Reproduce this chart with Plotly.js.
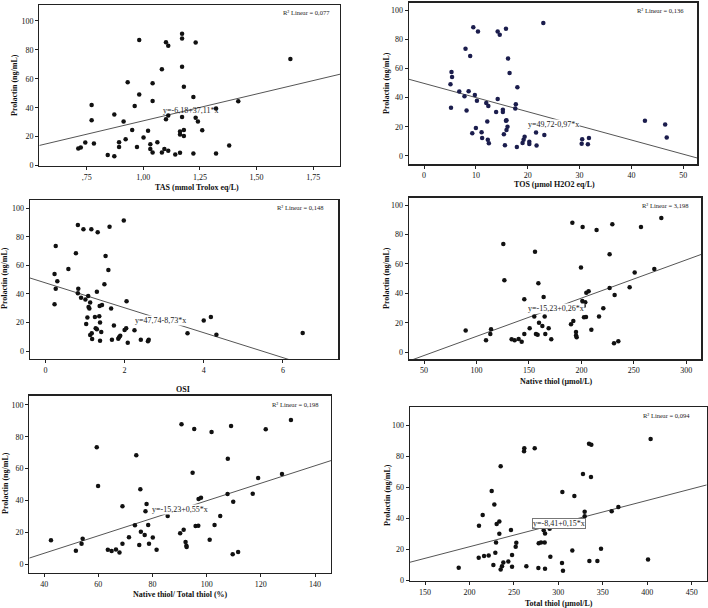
<!DOCTYPE html>
<html>
<head>
<meta charset="utf-8">
<script src="https://cdn.plot.ly/plotly-3.0.1.min.js"></script>
<style>
  html, body { margin: 0; padding: 0; background: #fff; }
  #chart { width: 708px; height: 608px; }
</style>
</head>
<body>
<div id="chart"></div>
<script>
// Prolactin (ng/mL) against six oxidative-stress markers

// TAS (mmol Trolox eq/L)
const tasX = [0.713,0.724,0.744,0.772,0.772,0.782,0.843,0.872,0.872,0.893,0.893,0.913,0.922,0.931,0.951,0.962,0.972,0.982,0.982,1.001,1.021,1.031,1.031,1.041,1.041,1.041,1.062,1.082,1.082,1.093,1.100,1.100,1.110,1.110,1.110,1.141,1.162,1.162,1.162,1.171,1.171,1.171,1.171,1.179,1.179,1.179,1.221,1.221,1.231,1.231,1.241,1.260,1.321,1.321,1.379,1.419,1.649];
const tasY = [11.8,12.5,15.9,41.9,31.4,15.3,7.3,35.3,6.4,16.2,12.8,30.5,18.2,57.6,24.6,41.2,12.8,86.8,49.2,19.4,24.1,14.8,11.4,56.9,44.6,9.1,16.2,66.5,9.1,11.4,85.2,32.1,82.9,34.6,10.3,7.7,23.5,21.5,8.9,91.1,87.9,68.3,33.5,54.4,24.6,20.5,47.4,8.4,85.0,33.0,30.5,24.4,39.4,8.4,13.9,44.4,73.6];

// TOS (µmol H2O2 eq/L)
const tosX = [5.1,5.2,5.3,5.4,6.8,7.8,8.0,8.2,8.6,8.9,9.3,9.5,9.8,10.0,10.2,10.4,11.1,11.2,12.0,12.2,12.3,12.4,12.5,13.9,14.2,14.2,14.6,15.2,15.2,15.4,15.6,15.8,15.8,15.9,15.9,16.1,16.2,16.5,17.6,17.7,17.9,18.0,19.0,19.2,19.4,20.3,20.3,21.6,21.7,23.0,23.2,30.4,30.5,31.6,31.8,42.6,46.5,46.8];
const tosY = [49.1,33.1,57.5,54.1,44.1,40.9,73.5,31.1,44.3,68.5,15.5,88.1,41.8,19.2,37.9,85.2,16.2,12.3,36.3,23.7,11.2,34.2,8.7,30.1,39.0,85.2,83.1,31.7,30.1,14.8,7.3,87.2,24.2,24.4,17.8,20.1,66.7,56.8,32.6,35.4,6.2,47.0,8.9,11.2,13.2,9.8,8.2,16.0,7.1,91.1,14.4,8.4,11.4,8.0,12.3,24.2,21.5,12.6];

// OSI
const osiX = [0.23,0.23,0.26,0.26,0.30,0.58,0.77,0.82,0.83,0.82,0.90,0.96,1.01,1.03,1.06,1.08,1.09,1.11,1.13,1.13,1.16,1.17,1.18,1.25,1.27,1.30,1.30,1.32,1.36,1.38,1.37,1.38,1.41,1.43,1.49,1.52,1.59,1.62,1.66,1.68,1.73,1.84,1.86,1.89,1.98,2.00,2.04,2.05,2.08,2.25,2.41,2.59,2.61,3.59,4.00,4.18,4.32,6.50];
const osiY = [32.7,54.0,43.7,73.6,48.8,57.5,68.5,88.3,43.7,40.4,37.4,85.3,36.0,18.9,23.4,38.6,30.8,29.7,33.9,11.2,85.3,12.4,8.4,23.8,15.9,15.2,41.6,83.2,24.3,19.9,31.5,7.2,13.3,32.2,46.7,66.6,56.8,87.1,29.7,7.9,17.8,8.6,9.6,10.7,91.4,14.7,15.9,34.8,5.8,14.5,7.9,6.8,7.9,12.4,21.3,23.8,11.4,12.6];

// Native thiol (µmol/L)
const nativeX = [89.7,109.1,113.2,113.9,125.6,126.6,133.5,136.4,140.2,143.1,145.6,145.6,150.7,155.1,155.8,156.7,158.3,159.0,159.6,162.8,164.0,165.0,165.6,168.8,171.3,190.1,191.4,192.3,194.9,194.9,195.5,199.6,200.9,201.2,201.5,202.2,202.5,203.7,204.4,204.7,206.9,209.5,214.5,216.8,220.9,226.9,226.9,229.5,231.1,231.7,235.2,246.0,250.8,256.8,269.5,276.2];
const nativeY = [14.7,8.1,12.4,15.6,73.5,48.9,8.8,8.1,9.0,7.2,36.0,12.4,16.3,24.2,68.3,12.4,11.8,46.8,20.1,17.9,37.6,24.2,12.4,16.3,8.8,19.0,88.0,21.3,13.8,11.3,10.2,57.5,34.8,85.1,32.1,31.4,23.8,33.9,24.0,40.5,41.4,15.2,83.0,24.2,29.9,66.5,43.7,86.9,6.1,38.9,7.5,44.1,54.1,85.1,56.6,91.2];

// Native thiol / Total thiol (%)
const ratioX = [42.5,51.7,53.8,54.2,59.4,59.9,63.5,64.9,66.5,67.8,68.9,68.9,71.3,73.5,74.0,75.1,75.5,75.7,77.1,77.4,77.8,78.4,78.7,80.1,81.5,85.6,90.2,90.7,91.5,92.2,92.5,92.6,94.8,95.4,95.9,96.9,97.0,97.9,101.1,101.8,102.9,105.0,107.7,107.8,109.0,109.6,109.8,111.6,117.0,119.0,121.8,127.8,131.1];
const ratioY = [14.9,8.4,12.8,15.9,73.4,49.1,9.0,8.2,9.2,7.3,36.3,12.8,16.8,24.3,68.3,11.9,47.0,20.3,18.2,33.1,37.7,24.5,12.8,16.6,9.0,30.2,19.3,87.8,21.6,13.8,11.5,10.7,57.4,84.9,23.9,24.1,40.9,41.7,15.3,83.0,24.5,30.2,44.0,66.2,86.8,6.1,39.2,7.5,44.2,54.1,84.7,56.6,90.6];

// Total thiol (µmol/L)
const totalX = [187.9,210.4,210.7,214.9,216.4,221.6,225.0,226.9,228.0,229.1,229.9,230.6,233.6,233.6,235.1,235.1,236.6,238.1,243.7,246.7,247.9,247.9,252.0,252.7,261.4,261.7,264.0,273.4,277.5,277.9,280.5,283.5,285.0,284.6,285.0,290.2,291.0,304.1,304.5,305.2,315.7,318.0,327.7,329.6,329.6,334.5,337.1,336.7,334.9,343.9,348.0,360.0,367.5,400.9,403.8];
const totalY = [8.0,14.5,35.2,42.1,15.6,16.0,57.7,9.7,49.0,17.7,24.4,36.3,38.0,30.0,73.7,6.9,8.9,11.4,12.1,32.4,16.2,8.6,21.6,24.2,83.4,85.3,8.9,85.3,7.8,23.8,24.4,32.2,30.2,24.4,7.3,33.3,15.1,11.0,57.0,6.0,19.2,54.4,68.7,44.3,41.3,88.3,87.7,66.7,12.3,12.3,20.3,44.5,47.3,13.4,91.4];

// Fit lines: [intercept, slope], with the label text and R² text
const fitCoef = [[-6.18, 37.11], [49.72, -0.97], [47.74, -8.73], [-15.23, 0.26], [-15.23, 0.55], [-8.41, 0.15]];
const fitLabels = ['y=-6,18+37,11*x', 'y=49,72-0,97*x', 'y=47,74-8,73*x', 'y=-15,23+0,26*x', 'y=-15,23+0,55*x', 'y=-8,41+0,15*x'];
const r2Labels = ['R² Linear = 0,077', 'R² Linear = 0,136', 'R² Linear = 0,148', 'R² Linear = 3,198', 'R² Linear = 0,198', 'R² Linear = 0,094'];
const xTitles = ['TAS (mmol Trolox eq/L)', 'TOS (µmol H2O2 eq/L)', 'OSI', 'Native thiol (µmol/L)', 'Native thiol/ Total thiol (%)', 'Total thiol (µmol/L)'];
const yTitle = 'Prolactin (ng/mL)';

// Tick labels
const tasTickVals = [0.75, 1.0, 1.25, 1.5, 1.75];
const tasTickText = [',75', '1,00', '1,25', '1,50', '1,75'];
const prolTicks = [0, 20, 40, 60, 80, 100];

const W = 708, H = 608;
const px = v => v / W;
const py = v => 1 - v / H;

// Panel frames in pixels: left, right, top, bottom
const frames = [
  [39.3, 340, 5, 166],
  [409, 697.3, 2.7, 164.3],
  [30, 338.3, 200, 359],
  [409, 701.3, 197.7, 359.3],
  [29.3, 331, 395.7, 572.7],
  [410, 706.7, 407.3, 580.7]
];
const xRanges = [[0.541, 1.868], [-2.9, 52.7], [-0.39, 7.40], [35.7, 314.3], [34.5, 145.9], [133.1, 466.9]];
const yRanges = [[-0.3, 111], [-5.7, 105], [-5.6, 105.8], [-4.8, 105], [-5.45, 105.8], [-0.4, 111.9]];
const xTickVals = [tasTickVals, [0, 10, 20, 30, 40, 50], [0, 2, 4, 6], [50, 100, 150, 200, 250, 300], [40, 60, 80, 100, 120, 140], [150, 200, 250, 300, 350, 400, 450]];
const xTickText = [tasTickText, null, null, null, null, null];

const series = [[tasX, tasY], [tosX, tosY], [osiX, osiY], [nativeX, nativeY], [ratioX, ratioY], [totalX, totalY]];
const markerColors = ['#111', '#1b1d4d', '#111', '#111', '#111', '#111'];

// Label positions in data units (fit equation) and pixels (titles, R²)
const eqPos = [[1.209, 38], [24.9, 21.9], [2.90, 21.7], [175.8, 29.9], [90.1, 34.4], [300.4, 36.7]];
const yTitlePos = [[15, 85], [386, 83], [4, 278], [386, 278], [5, 483], [387, 495]];
const xTitlePos = [[197, 187.5], [554, 184.5], [183, 389], [556, 381.5], [180, 594], [559, 603.5]];
const r2Pos = [[332, 12], [686, 10], [325, 208], [690, 205], [320, 405], [692, 415]];

const serif = 'Liberation Serif, Times New Roman, serif';
const traces = [];
const layout = {
  width: W, height: H,
  margin: {l: 0, r: 0, t: 0, b: 0},
  paper_bgcolor: '#fff', plot_bgcolor: '#fff',
  showlegend: false,
  font: {family: serif, color: '#111', size: 8},
  annotations: []
};

for (let i = 0; i < 6; i++) {
  const n = i + 1;
  const xa = 'x' + (n === 1 ? '' : n), ya = 'y' + (n === 1 ? '' : n);
  const xKey = 'xaxis' + (n === 1 ? '' : n), yKey = 'yaxis' + (n === 1 ? '' : n);
  const f = frames[i];
  const common = {
    showgrid: false, zeroline: false, showline: true, mirror: true,
    linecolor: '#222', linewidth: 1.3, ticks: 'outside', ticklen: 3,
    tickcolor: '#222', tickwidth: 1, tickfont: {family: serif, size: 8, color: '#111'},
    fixedrange: true
  };
  layout[xKey] = Object.assign({}, common, {
    domain: [px(f[0]), px(f[1])], range: xRanges[i], anchor: ya,
    tickmode: 'array', tickvals: xTickVals[i],
    ticktext: xTickText[i] || xTickVals[i].map(String)
  });
  layout[yKey] = Object.assign({}, common, {
    domain: [py(f[3]), py(f[2])], range: yRanges[i], anchor: xa,
    tickmode: 'array', tickvals: prolTicks
  });

  // fitted regression line across the axis range
  const [a, b] = fitCoef[i];
  const lx = xRanges[i];
  traces.push({
    x: lx, y: lx.map(v => a + b * v), xaxis: xa, yaxis: ya,
    mode: 'lines', line: {color: '#555', width: 1}, hoverinfo: 'skip'
  });
  traces.push({
    x: series[i][0], y: series[i][1], xaxis: xa, yaxis: ya,
    mode: 'markers', marker: {size: 4.5, color: markerColors[i]}
  });

  layout.annotations.push({
    xref: xa, yref: ya, x: eqPos[i][0], y: eqPos[i][1], text: fitLabels[i],
    showarrow: false, font: {family: serif, size: 8, color: '#222'},
    bgcolor: i === 0 ? 'rgba(0,0,0,0)' : '#fff',
    bordercolor: i === 5 ? '#777' : 'rgba(0,0,0,0)', borderwidth: 1, borderpad: 0
  });
  layout.annotations.push({
    xref: 'paper', yref: 'paper', x: px(r2Pos[i][0]), y: py(r2Pos[i][1]),
    xanchor: 'right', yanchor: 'middle', text: r2Labels[i], showarrow: false,
    font: {family: serif, size: 6.5, color: '#222'}
  });
  layout.annotations.push({
    xref: 'paper', yref: 'paper', x: px(xTitlePos[i][0]), y: py(xTitlePos[i][1]),
    xanchor: 'center', yanchor: 'middle', text: '<b>' + xTitles[i] + '</b>', showarrow: false,
    font: {family: serif, size: 8, color: '#111'}
  });
  layout.annotations.push({
    xref: 'paper', yref: 'paper', x: px(yTitlePos[i][0]), y: py(yTitlePos[i][1]),
    xanchor: 'center', yanchor: 'middle', textangle: -90, text: '<b>' + yTitle + '</b>', showarrow: false,
    font: {family: serif, size: 8, color: '#111'}
  });
}

Plotly.newPlot('chart', traces, layout, {staticPlot: true, displayModeBar: false});
</script>
</body>
</html>
